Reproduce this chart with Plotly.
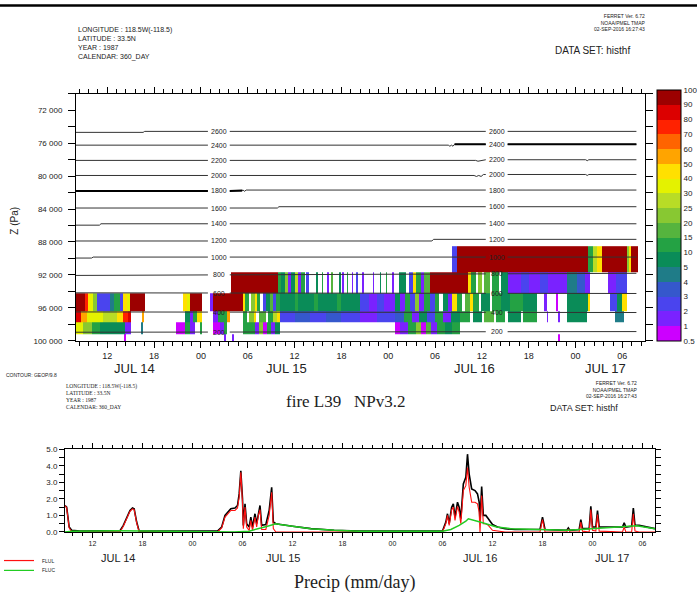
import numpy as np
import plotly.graph_objects as go

W, H = 697, 601
def fx(px): return px / W
def fy(py): return 1 - py / H

# ---------------- data: cloud field (hours since JUL 14 00:00, value %) ----------------
levels = [0.5, 1, 2, 3, 4, 5, 10, 15, 20, 25, 30, 40, 50, 60, 70, 80, 90, 100]
level_labels = ["0.5", "1", "2", "3", "4", "5", "10", "15", "20", "25", "30", "40",
                "50", "60", "70", "80", "90", "100"]
band_colors = ["#CC00FF", "#7A22FF", "#4A44EE", "#3558CC", "#1F7C88", "#0A8C58",
               "#24A244", "#55B43E", "#88C832", "#B8DC26", "#E4F200", "#FFE000",
               "#FFA400", "#FF6400", "#FF2200", "#DC0000", "#9C0000"]

row_edges_pa = [88511, 91706, 94171, 96373, 97761, 99161, 100000]

row1 = [(56.2, 56.8, 2.5), (56.8, 73.6, 95), (73.6, 74.2, 12), (74.2, 74.8, 27), (74.8, 75.4, 45),
        (75.4, 78.6, 95), (78.6, 78.9, 22), (78.9, 79.1, 45), (79.1, 80.0, 95)]
row2 = [(27.9, 33.9, 95),
        (33.9, 34.3, 12), (34.3, 34.8, 7), (34.8, 35.2, 22), (35.2, 35.6, 1.5), (35.6, 36.0, 7),
        (36.0, 36.4, 27), (36.4, 36.8, 1.5), (36.8, 37.3, 12), (37.5, 37.8, 2.5),
        (38.8, 39.0, 7), (39.5, 39.7, 12), (40.2, 40.4, 1.5), (40.7, 40.9, 17), (41.7, 41.9, 7),
        (42.1, 42.3, 1.5), (42.7, 42.9, 12), (43.3, 43.5, 1.5), (43.9, 44.1, 2.5),
        (44.7, 44.9, 1.5), (46.0, 46.2, 1.5), (46.9, 47.1, 7), (47.7, 47.9, 12), (48.5, 48.7, 1.5),
        (49.4, 50.3, 7), (50.7, 51.2, 2.5), (51.2, 51.6, 45), (51.6, 52.2, 12), (52.2, 52.6, 1.5),
        (52.6, 53.4, 17),
        (53.4, 58.2, 95),
        (58.2, 58.6, 45), (58.6, 59.2, 12), (59.5, 60.0, 22), (60.3, 61.0, 17), (61.3, 62.2, 12),
        (62.5, 63.3, 7),
        (63.3, 65.0, 1.5), (65.0, 66.0, 2.5), (66.0, 67.5, 1.5), (67.5, 68.5, 2.5), (68.5, 70.9, 1.5),
        (70.9, 72.2, 4.5), (72.2, 73.2, 3.5), (73.2, 73.9, 1.5),
        (76.2, 77.2, 1.5), (77.2, 78.6, 2.5)]
row3 = [(8.0, 9.15, 95), (9.15, 9.5, 75), (9.5, 9.8, 45), (9.8, 10.2, 35), (10.2, 10.65, 22),
        (10.65, 12.4, 2.5), (12.4, 12.9, 4.5), (12.9, 13.6, 12), (13.6, 14.0, 2.5), (14.0, 14.5, 45),
        (14.5, 14.9, 35), (14.9, 16.8, 95),
        (21.75, 22.2, 45), (22.2, 22.6, 35), (22.6, 24.1, 95),
        (25.2, 25.6, 1.5), (25.6, 29.35, 95),
        (29.35, 29.7, 45), (29.7, 30.1, 12), (30.4, 30.9, 22), (30.9, 31.2, 45), (31.2, 31.6, 12),
        (31.9, 32.4, 2.5), (32.4, 32.8, 7), (32.8, 33.2, 17), (33.2, 33.6, 2.5), (33.6, 34.1, 12),
        (34.1, 36.0, 7), (36.0, 36.5, 12), (36.5, 38.5, 7), (38.5, 39.0, 12), (39.0, 41.5, 7),
        (41.5, 42.0, 12), (42.0, 44.4, 7),
        (44.4, 45.5, 2.5), (45.5, 46.5, 1.5), (46.5, 47.5, 2.5), (47.5, 48.9, 1.5),
        (48.9, 49.5, 7), (49.5, 50.2, 1.5), (50.2, 50.8, 12), (50.8, 51.4, 2.5), (51.4, 52.0, 22),
        (52.0, 52.6, 1.5), (52.6, 53.4, 12),
        (53.4, 54.0, 2.5), (54.0, 54.5, 12), (55.0, 55.6, 7), (55.6, 56.2, 1.5), (56.2, 56.8, 45),
        (56.8, 57.5, 12), (57.8, 58.5, 17), (58.5, 58.8, 45), (58.8, 59.6, 12), (59.9, 61.0, 7),
        (61.3, 62.5, 12), (62.5, 63.6, 7),
        (63.6, 65.3, 12), (65.3, 67.1, 7),
        (68.0, 68.3, 1.5), (69.5, 69.8, 0.7),
        (70.9, 73.6, 7), (73.6, 73.9, 45),
        (76.4, 77.3, 2.5), (77.3, 78.0, 7), (78.0, 78.6, 45)]
row4 = [(8.0, 8.7, 85), (8.7, 9.4, 55), (9.4, 11.5, 35), (11.5, 13.3, 27), (13.3, 14.06, 45),
        (14.06, 14.6, 75), (14.6, 15.1, 85),
        (16.5, 16.75, 55),
        (22.0, 22.6, 7), (22.6, 23.0, 1.5), (23.0, 23.5, 12), (23.5, 24.1, 45),
        (25.6, 26.2, 1.5), (26.2, 27.3, 12), (27.4, 27.7, 55),
        (29.35, 29.9, 12), (30.2, 30.8, 22), (30.8, 31.1, 45), (31.5, 32.3, 17), (32.6, 33.3, 12),
        (33.3, 33.7, 27), (33.7, 34.1, 45),
        (34.1, 36.0, 2.5), (36.0, 38.0, 3.5), (38.0, 40.0, 2.5), (40.0, 42.0, 3.5), (42.0, 44.4, 2.5),
        (44.4, 46.5, 1.5), (46.5, 48.9, 2.5),
        (48.9, 50.0, 3.5), (50.0, 51.0, 12), (51.0, 52.0, 1.5), (52.0, 53.0, 7), (53.0, 54.0, 2.5),
        (54.0, 55.0, 12), (55.0, 56.0, 1.5), (56.0, 57.2, 7),
        (57.2, 58.5, 12), (58.8, 60.0, 7), (60.3, 61.5, 17), (61.8, 63.0, 12), (63.3, 65.0, 7),
        (65.3, 67.1, 12),
        (68.3, 68.5, 1.5), (69.8, 70.0, 1.5),
        (70.9, 73.5, 7),
        (77.0, 78.2, 4.5)]
row5 = [(8.0, 8.9, 35), (8.9, 10.0, 22), (10.0, 11.1, 12), (11.1, 14.3, 7), (14.3, 15.1, 1.5),
        (16.3, 16.6, 4.5),
        (20.8, 22.0, 0.7), (22.0, 22.6, 12), (22.6, 23.3, 1.5),
        (23.9, 24.1, 12),
        (25.6, 26.4, 0.7), (26.4, 27.0, 1.5), (27.0, 27.3, 12),
        (29.4, 30.9, 12), (30.9, 31.5, 1.5), (31.5, 32.0, 22), (32.0, 32.5, 0.7), (32.5, 33.0, 12),
        (33.0, 33.5, 1.5), (33.5, 34.1, 7),
        (48.9, 49.5, 0.7), (49.5, 50.5, 1.5), (50.5, 51.5, 12), (51.5, 52.2, 22), (52.2, 52.8, 0.7),
        (52.8, 53.5, 17), (53.5, 54.3, 1.5), (54.3, 55.3, 12), (55.3, 56.2, 7), (56.2, 57.2, 12)]
row6 = [(14.1, 14.4, 0.7), (26.9, 27.2, 1.5), (28.0, 28.3, 1.5), (69.8, 70.0, 0.7)]
cloud_rows = [row1, row2, row3, row4, row5, row6]

# ---------------- data: geopotential height contours (m) ----------------
contour_levels = [200, 400, 600, 800, 1000, 1200, 1400, 1600, 1800, 2000, 2200, 2400, 2600]
contour_hours = [
    [8.0, 79.8],
    [8.0, 79.8],
    [8.0, 79.8],
    [8.0, 79.8],
    [8.0, 10.0, 10.2, 79.8],
    [8.0, 53.6, 53.8, 79.8],
    [8.0, 11.0, 11.2, 79.8],
    [8.0, 33.8, 34.0, 79.8],
    [8.0, 29.2, 29.4, 29.6, 29.8, 79.8],
    [8.0, 59.0, 59.3, 59.6, 59.9, 60.2, 73.3, 73.5, 73.7, 79.8],
    [8.0, 59.2, 59.5, 59.9, 60.2, 73.3, 73.5, 73.7, 79.8],
    [8.0, 55.7, 55.9, 56.1, 56.3, 56.5, 79.8],
    [8.0, 16.6, 16.8, 79.8],
]
contour_pa = [
    [98950, 98870],
    [96490, 96560],
    [94171, 94250],
    [92060, 91800],
    [89950, 89950, 89830, 89830],
    [87880, 87880, 87680, 87680],
    [85960, 85960, 85790, 85790],
    [83880, 83880, 83720, 83720],
    [81810, 81810, 81700, 81850, 81700, 81700],
    [79930, 79930, 80050, 79930, 80050, 79810, 79810, 79930, 79810, 79810],
    [78100, 78100, 78200, 78100, 78020, 78020, 78140, 78020, 78020],
    [76250, 76250, 76380, 76250, 76380, 76150, 76150],
    [74700, 74700, 74580, 74580],
]
contour_label_hours = [26.3, 61.9]

# ---------------- data: precipitation (mm/day) ----------------
precip_hours = [8.7, 8.9, 9.2, 9.5, 10.5, 15.3, 15.7, 16.1, 16.5, 16.8, 17.0, 17.3, 17.6, 27.0, 27.5,
                27.9, 28.3, 28.6, 29.1, 29.4, 29.6, 29.8, 30.0, 30.1, 30.3, 30.5, 30.8, 31.0, 31.2,
                31.5, 31.7, 31.9, 32.1, 32.3, 32.8, 33.2, 33.5, 33.7, 34.0, 36.0, 38.2, 41.0, 44.0,
                54.0, 54.4, 54.6, 54.8, 55.1, 55.3, 55.5, 55.8, 56.0, 56.2, 56.5, 56.8, 57.0, 57.2,
                57.5, 57.9, 58.2, 58.4, 58.5, 58.7, 58.9, 59.2, 59.5, 60.0, 60.6, 61.5, 62.7, 65.7,
                66.0, 66.3, 68.9, 69.1, 69.3, 70.4, 70.6, 70.8, 71.6, 71.8, 72.0, 72.4, 72.6, 72.8,
                75.6, 75.8, 76.0, 76.7, 76.9, 77.1, 77.6, 78.5, 79.5]
precip_total = [1.6, 1.5, 0.3, 0.1, 0.05, 0.08, 0.4, 0.9, 1.3, 1.45, 1.4, 0.6, 0.05, 0.05, 0.3,
                1.0, 1.25, 1.4, 1.45, 1.6, 2.3, 3.7, 2.0, 0.4, 1.7, 0.5, 0.3, 0.9, 0.3,
                1.1, 0.5, 1.2, 1.6, 0.4, 0.45, 1.3, 2.7, 0.6, 0.5, 0.35, 0.2, 0.1, 0.05,
                0.05, 0.6, 1.1, 0.5, 1.5, 1.7, 0.9, 1.8, 1.5, 0.8, 2.9, 3.3, 4.7, 3.5,
                2.6, 2.5, 2.3, 1.8, 0.6, 2.75, 1.0, 1.0, 0.8, 0.45, 0.3, 0.2, 0.15, 0.15,
                0.9, 0.15, 0.1, 0.25, 0.1, 0.15, 0.75, 0.2, 0.2, 1.55, 0.3, 0.3, 1.3, 0.3,
                0.3, 0.55, 0.3, 0.35, 1.45, 0.4, 0.4, 0.3, 0.2]
precip_flul = [1.6, 1.45, 0.25, 0.0, 0.0, 0.0, 0.35, 0.85, 1.25, 1.4, 1.35, 0.55, 0.0, 0.0, 0.25,
               0.9, 1.15, 1.3, 1.3, 1.45, 2.1, 3.6, 1.8, 0.2, 1.5, 0.3, 0.1, 0.7, 0.1,
               0.9, 0.3, 1.0, 1.35, 0.15, 0.15, 1.0, 2.4, 0.2, 0.0, 0.0, 0.0, 0.0, 0.0,
               0.0, 0.5, 1.0, 0.4, 1.35, 1.5, 0.7, 1.55, 1.2, 0.5, 2.5, 2.8, 3.9, 2.7,
               1.8, 1.8, 1.7, 1.2, 0.0, 2.2, 0.5, 0.5, 0.4, 0.1, 0.05, 0.0, 0.0, 0.0,
               0.75, 0.0, 0.0, 0.15, 0.0, 0.0, 0.6, 0.05, 0.0, 1.35, 0.1, 0.05, 1.05, 0.05,
               0.0, 0.3, 0.0, 0.0, 1.1, 0.05, 0.0, 0.0, 0.0]
flu_c_hours = [8.7, 9.5, 15.0, 20.0, 27.0, 29.0, 30.8, 32.0, 33.0, 34.0, 34.5, 36.0, 38.2, 41.0,
               44.0, 54.0, 55.0, 56.0, 56.8, 57.1, 57.5, 58.5, 59.5, 60.5, 62.2, 65.0, 69.0, 70.5,
               72.0, 74.5, 76.0, 77.3, 78.2, 79.5]
precip_fluc = [0.0, 0.05, 0.08, 0.05, 0.05, 0.0, 0.05, 0.2, 0.35, 0.5, 0.45, 0.35, 0.2, 0.1,
               0.05, 0.05, 0.15, 0.4, 0.65, 0.8, 0.75, 0.6, 0.45, 0.3, 0.2, 0.15, 0.1, 0.15,
               0.2, 0.25, 0.3, 0.38, 0.3, 0.2]

tick_hours = [12, 18, 24, 30, 36, 42, 48, 54, 60, 66, 72, 78]
tick_text = ["12", "18", "00", "06", "12", "18", "00", "06", "12", "18", "00", "06"]
day_labels = ["JUL 14", "JUL 15", "JUL 16", "JUL 17"]
day_label_hours_top = [15.5, 35.0, 59.0, 75.8]
day_label_hours_bottom = [15.0, 34.8, 58.5, 74.3]
z_tick_vals = [72000, 76000, 80000, 84000, 88000, 92000, 96000, 100000]
z_tick_text = ["72 000", "76 000", "80 000", "84 000", "88 000", "92 000", "96 000", "100 000"]

# ---------------- build figure ----------------
FONT = "Liberation Sans"
SERIF = "Liberation Serif"
fig = go.Figure()

# heatmap grid from run-length rows
edges = np.array(sorted(set(e for r in cloud_rows for s in r for e in s[:2])))
mids = (edges[:-1] + edges[1:]) / 2
z = np.full((len(cloud_rows), len(mids)), np.nan)
for i, r in enumerate(cloud_rows):
    for a, b, v in r:
        band = int(np.searchsorted(levels, v, side="right") - 1)
        z[i, (mids > a) & (mids < b)] = band + 0.5

nb = len(band_colors)
cs = []
for i, c in enumerate(band_colors):
    cs.append([i / nb, c])
    cs.append([(i + 1) / nb, c])

fig.add_trace(go.Heatmap(
    x=edges, y=row_edges_pa, z=z, colorscale=cs, zmin=0, zmax=nb, zsmooth=False,
    xaxis="x", yaxis="y", hoverinfo="skip",
    colorbar=dict(x=fx(657), xanchor="left", xpad=0, thickness=24, thicknessmode="pixels",
                  y=fy(342), yanchor="bottom", ypad=0, len=251, lenmode="pixels",
                  tickvals=list(range(nb + 1)), ticktext=level_labels, ticks="",
                  tickfont=dict(family=FONT, size=8, color="#222"),
                  outlinecolor="black", outlinewidth=1)))

# contour lines with label gaps
gap_half = 1.4
for lev, hs, ps in zip(contour_levels, contour_hours, contour_pa):
    hs = np.array(hs, float); ps = np.array(ps, float)
    cuts = [(hs[0], contour_label_hours[0] - gap_half),
            (contour_label_hours[0] + gap_half, contour_label_hours[1] - gap_half),
            (contour_label_hours[1] + gap_half, hs[-1])]
    xs, ys = [], []
    for a, b in cuts:
        inner = hs[(hs > a) & (hs < b)]
        sh = np.concatenate([[a], inner, [b]])
        xs += list(sh) + [None]
        ys += list(np.interp(sh, hs, ps)) + [None]
    fig.add_trace(go.Scatter(x=xs, y=ys, mode="lines", line=dict(color="#333", width=1),
                             xaxis="x", yaxis="y", hoverinfo="skip"))
    for lh in contour_label_hours:
        fig.add_annotation(x=lh, y=float(np.interp(lh, hs, ps)), xref="x", yref="y",
                           text=str(lev), showarrow=False,
                           font=dict(family=FONT, size=7, color="#222"))

# thick contour portions
thick = [(1800, 8.0, 29.3), (2400, 56.5, 79.8)]
for lev, a, b in thick:
    k = contour_levels.index(lev)
    hs = np.array(contour_hours[k], float); ps = np.array(contour_pa[k], float)
    if b <= contour_label_hours[0] - gap_half:
        segs = [(a, b)]
    elif a < contour_label_hours[0]:
        segs = [(a, contour_label_hours[0] - gap_half), (contour_label_hours[0] + gap_half, b)]
    elif a >= contour_label_hours[1] + gap_half:
        segs = [(a, b)]
    else:
        segs = [(a, contour_label_hours[1] - gap_half), (contour_label_hours[1] + gap_half, b)]
    xs, ys = [], []
    for s0, s1 in segs:
        xs += [s0, s1, None]
        ys += [float(np.interp(s0, hs, ps)), float(np.interp(s1, hs, ps)), None]
    fig.add_trace(go.Scatter(x=xs, y=ys, mode="lines", line=dict(color="black", width=2),
                             xaxis="x", yaxis="y", hoverinfo="skip"))

# precipitation
fig.add_trace(go.Scatter(x=precip_hours, y=precip_total, mode="lines",
                         line=dict(color="black", width=1.6), xaxis="x2", yaxis="y2", hoverinfo="skip"))
fig.add_trace(go.Scatter(x=precip_hours, y=precip_flul, mode="lines",
                         line=dict(color="#FF1010", width=1.1), xaxis="x2", yaxis="y2", hoverinfo="skip"))
fig.add_trace(go.Scatter(x=flu_c_hours, y=precip_fluc, mode="lines",
                         line=dict(color="#22CC22", width=1.5), xaxis="x2", yaxis="y2", hoverinfo="skip"))

axis_common = dict(showline=True, linecolor="black", linewidth=1, mirror="ticks", showgrid=False,
                   zeroline=False, ticks="outside", tickcolor="black")
fig.update_layout(
    width=W, height=H, margin=dict(l=0, r=0, t=0, b=0),
    paper_bgcolor="white", plot_bgcolor="white", showlegend=False,
    xaxis=dict(domain=[fx(76), fx(645)], range=[8.0, 80.9], anchor="y",
               tickvals=tick_hours, ticktext=tick_text, ticklen=6,
               tickfont=dict(family=FONT, size=9, color="#222"),
               minor=dict(dtick=1.2, tick0=0, ticklen=4, ticks="outside", tickcolor="black"),
               **axis_common),
    yaxis=dict(domain=[fy(342), fy(91)], range=[100000, 70000], anchor="x",
               tickvals=z_tick_vals, ticktext=z_tick_text, ticklen=7,
               tickfont=dict(family=FONT, size=8, color="#222"), ticklabelstandoff=4,
               minor=dict(dtick=2000, tick0=0, ticklen=7, ticks="outside", tickcolor="black"),
               **axis_common),
    xaxis2=dict(domain=[fx(65), fx(655)], range=[8.7, 79.5], anchor="y2",
                tickvals=tick_hours, ticktext=tick_text, ticklen=5,
                tickfont=dict(family=FONT, size=7, color="#222"),
                minor=dict(dtick=1.2, tick0=0, ticklen=3, ticks="outside", tickcolor="black"),
                **axis_common),
    yaxis2=dict(domain=[fy(536), fy(452)], range=[0, 5], anchor="x2",
                tickvals=[0, 1, 2, 3, 4, 5], ticktext=["0.0", "1.0", "2.0", "3.0", "4.0", "5.0"],
                ticklen=5, tickfont=dict(family=FONT, size=8, color="#222"),
                minor=dict(dtick=0.5, ticklen=5, ticks="outside", tickcolor="black"),
                **axis_common),
)

ann = []
def text(x, y, s, size, family=FONT, xanchor="left", yanchor="middle", align="left", **kw):
    ann.append(dict(x=fx(x), y=fy(y), xref="paper", yref="paper", text=s, showarrow=False,
                    xanchor=xanchor, yanchor=yanchor, align=align,
                    font=dict(family=family, size=size, color="#222"), **kw))

info = "LONGITUDE : 118.5W(-118.5)<br>LATITUDE : 33.5N<br>YEAR : 1987<br>CALENDAR: 360_DAY"
ferret = "FERRET Ver. 6.72<br>NOAA/PMEL TMAP<br>02-SEP-2016 16:27:43"
text(76, 20, info, 7, yanchor="top")
text(648, 7, ferret, 5, xanchor="right", yanchor="top", align="right")
text(553, 47, "DATA SET: histhf", 10)
text(15, 220, "Z (Pa)", 10, xanchor="center", textangle=-90)
text(4, 377, "CONTOUR: GEOP/9.8", 5)
text(64, 383, info, 5.5, family=SERIF, yanchor="top")
text(345, 404, "fire L39   NPv3.2", 17, family=SERIF, xanchor="center")
text(640, 380, ferret, 5, xanchor="right", yanchor="top", align="right")
text(548, 410, "DATA SET: histhf", 9)
text(355, 587, "Precip (mm/day)", 18, family=SERIF, xanchor="center")
text(40, 565, "FLUL", 5)
text(40, 575, "FLUC", 5)
for h, s in zip(day_label_hours_top, day_labels):
    ann.append(dict(x=h, y=fy(370), xref="x", yref="paper", text=s, showarrow=False,
                    xanchor="center", yanchor="middle",
                    font=dict(family=FONT, size=13, color="#222")))
for h, s in zip(day_label_hours_bottom, day_labels):
    ann.append(dict(x=h, y=fy(562), xref="x2", yref="paper", text=s, showarrow=False,
                    xanchor="center", yanchor="middle",
                    font=dict(family=FONT, size=11, color="#222")))
for a in ann:
    fig.add_annotation(**a)

shapes = [
    dict(type="line", xref="paper", yref="paper", x0=0, x1=1, y0=fy(1.5), y1=fy(1.5),
         line=dict(color="black", width=2.5)),
    dict(type="line", xref="paper", yref="paper", x0=fx(4), x1=fx(34), y0=fy(565), y1=fy(565),
         line=dict(color="#FF1010", width=1.2)),
    dict(type="line", xref="paper", yref="paper", x0=fx(4), x1=fx(34), y0=fy(575), y1=fy(575),
         line=dict(color="#22CC22", width=1.2)),
]
for i in range(1, nb):
    yy = 342 - i * 251 / nb
    shapes.append(dict(type="line", xref="paper", yref="paper", x0=fx(657), x1=fx(681),
                       y0=fy(yy), y1=fy(yy), line=dict(color="rgba(0,0,0,0.45)", width=0.6)))
fig.update_layout(shapes=shapes)

fig.write_html("out.html")
